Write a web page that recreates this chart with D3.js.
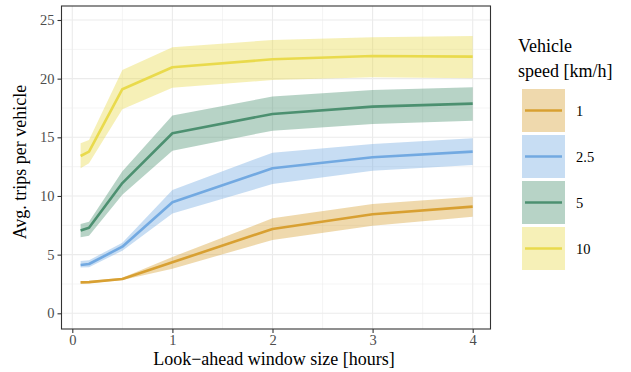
<!DOCTYPE html>
<html>
<head>
<meta charset="utf-8">
<script src="https://cdn.jsdelivr.net/npm/d3@7"></script>
<style>
  body { margin: 0; background: #fff; }
</style>
</head>
<body>
<div id="chart"></div>
<script>
// look-ahead window in hours
var windowHours = [0.083, 0.167, 0.5, 1, 2, 3, 4];
var speeds = ["1", "2.5", "5", "10"];

// mean trips per vehicle and band (low / high) for each speed
var mean1  = [2.64, 2.66, 2.93, 4.35, 7.19, 8.44, 9.09];
var low1   = [2.55, 2.57, 2.83, 3.80, 6.25, 7.47, 8.24];
var high1  = [2.74, 2.76, 3.04, 4.80, 8.10, 9.32, 9.94];

var mean25 = [4.12, 4.20, 5.68, 9.46, 12.36, 13.30, 13.78];
var low25  = [3.90, 3.92, 5.34, 8.50, 11.02, 12.16, 12.64];
var high25 = [4.45, 4.52, 6.02, 10.50, 13.69, 14.43, 14.92];

var mean5  = [7.05, 7.30, 11.10, 15.35, 16.99, 17.62, 17.87];
var low5   = [6.48, 6.60, 10.10, 13.86, 15.57, 16.14, 16.42];
var high5  = [7.61, 7.80, 12.10, 16.85, 18.47, 19.04, 19.27];

var mean10 = [13.41, 13.78, 19.10, 20.97, 21.65, 21.93, 21.88];
var low10  = [12.36, 12.79, 17.39, 19.23, 19.89, 20.12, 20.03];
var high10 = [14.49, 14.77, 20.74, 22.68, 23.30, 23.53, 23.64];

var xTicks = [0, 1, 2, 3, 4];
var yTicks = [0, 5, 10, 15, 20, 25];

var lineColors = ["#D8A032", "#72A9E1", "#4C9070", "#E9DA4C"];

var series = [
  {mean: mean1, low: low1, high: high1},
  {mean: mean25, low: low25, high: high25},
  {mean: mean5, low: low5, high: high5},
  {mean: mean10, low: low10, high: high10}
];

var width = 631, height = 372;
var panel = {left: 61.5, right: 490.5, top: 6, bottom: 329};
var serif = "'Liberation Serif'";

var svg = d3.select("#chart").append("svg")
  .attr("width", width)
  .attr("height", height);

var x = d3.scaleLinear().domain([0, 4]).range([72.3, 472.7]);
var y = d3.scaleLinear().domain([0, 25]).range([313.3, 20]);

// grid lines
var grid = svg.append("g");
var xMinor = [0.5, 1.5, 2.5, 3.5];
var yMinor = [2.5, 7.5, 12.5, 17.5, 22.5];

grid.selectAll(".xminor").data(xMinor).enter().append("line")
  .attr("x1", d => x(d)).attr("x2", d => x(d))
  .attr("y1", panel.top).attr("y2", panel.bottom)
  .attr("stroke", "#EBEBEB").attr("stroke-width", 0.55);
grid.selectAll(".yminor").data(yMinor).enter().append("line")
  .attr("y1", d => y(d)).attr("y2", d => y(d))
  .attr("x1", panel.left).attr("x2", panel.right)
  .attr("stroke", "#EBEBEB").attr("stroke-width", 0.55);
grid.selectAll(".xmajor").data(xTicks).enter().append("line")
  .attr("x1", d => x(d)).attr("x2", d => x(d))
  .attr("y1", panel.top).attr("y2", panel.bottom)
  .attr("stroke", "#EBEBEB").attr("stroke-width", 1.1);
grid.selectAll(".ymajor").data(yTicks).enter().append("line")
  .attr("y1", d => y(d)).attr("y2", d => y(d))
  .attr("x1", panel.left).attr("x2", panel.right)
  .attr("stroke", "#EBEBEB").attr("stroke-width", 1.1);

// bands
var area = d3.area()
  .x((d, i) => x(windowHours[i]))
  .y0(d => y(d[0]))
  .y1(d => y(d[1]));

var line = d3.line()
  .x((d, i) => x(windowHours[i]))
  .y(d => y(d));

series.forEach(function(s, k) {
  var pts = s.low.map((v, i) => [v, s.high[i]]);
  svg.append("path")
    .attr("d", area(pts))
    .attr("fill", lineColors[k])
    .attr("fill-opacity", 0.4);
});

series.forEach(function(s, k) {
  svg.append("path")
    .attr("d", line(s.mean))
    .attr("fill", "none")
    .attr("stroke", lineColors[k])
    .attr("stroke-width", 2.6)
    .attr("stroke-linejoin", "round");
});

// panel border
svg.append("rect")
  .attr("x", panel.left).attr("y", panel.top)
  .attr("width", panel.right - panel.left)
  .attr("height", panel.bottom - panel.top)
  .attr("fill", "none")
  .attr("stroke", "#333333")
  .attr("stroke-width", 1.1);

// axes
var xAxis = svg.append("g")
  .attr("transform", "translate(0," + panel.bottom + ")")
  .call(d3.axisBottom(x).tickValues(xTicks).tickSize(4).tickPadding(2).tickFormat(d3.format("d")));
var yAxis = svg.append("g")
  .attr("transform", "translate(" + panel.left + ",0)")
  .call(d3.axisLeft(y).tickValues(yTicks).tickSize(4).tickPadding(3).tickFormat(d3.format("d")));

[xAxis, yAxis].forEach(function(a) {
  a.select(".domain").remove();
  a.selectAll(".tick line").attr("stroke", "#333333").attr("stroke-width", 1.1);
  a.selectAll(".tick text")
    .attr("fill", "#4D4D4D")
    .style("font-family", serif)
    .style("font-size", "14.5px");
});

// axis titles
svg.append("text")
  .attr("x", 274)
  .attr("y", 365)
  .attr("text-anchor", "middle")
  .style("font-family", serif)
  .style("font-size", "18px")
  .text("Look\u2212ahead window size [hours]");

svg.append("text")
  .attr("transform", "translate(26,162) rotate(-90)")
  .attr("text-anchor", "middle")
  .style("font-family", serif)
  .style("font-size", "18px")
  .text("Avg. trips per vehicle");

// legend
var legend = svg.append("g");
legend.append("text").attr("x", 518).attr("y", 52)
  .style("font-family", serif).style("font-size", "18px").text("Vehicle");
legend.append("text").attr("x", 518).attr("y", 77)
  .style("font-family", serif).style("font-size", "18px").text("speed [km/h]");

var keys = legend.selectAll(".key").data(speeds).enter().append("g")
  .attr("transform", (d, i) => "translate(522," + (89 + i * 46) + ")");
keys.append("rect")
  .attr("width", 43).attr("height", 43)
  .attr("fill", (d, i) => lineColors[i])
  .attr("fill-opacity", 0.4);
keys.append("line")
  .attr("x1", 3).attr("x2", 40)
  .attr("y1", 21.5).attr("y2", 21.5)
  .attr("stroke", (d, i) => lineColors[i])
  .attr("stroke-width", 2.6);
keys.append("text")
  .attr("x", 54).attr("y", 21.5)
  .attr("dy", "0.35em")
  .style("font-family", serif)
  .style("font-size", "14.5px")
  .text(d => d);
</script>
</body>
</html>
